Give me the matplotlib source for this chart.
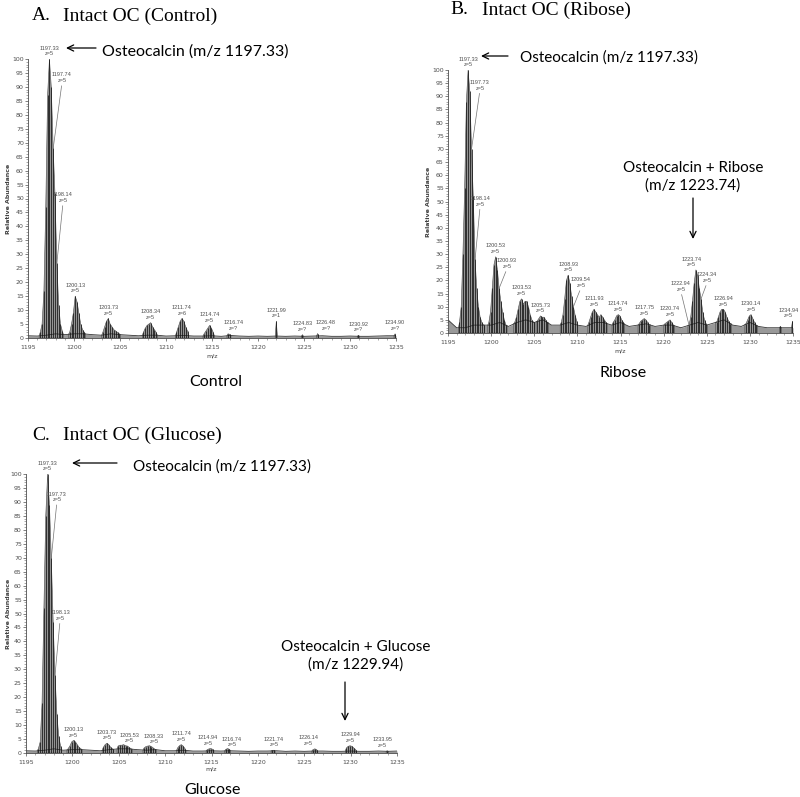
#!/usr/bin/env python3
"""Intact osteocalcin spectra: control, ribose and glucose incubations."""

import numpy as np
import matplotlib.pyplot as plt
from matplotlib.collections import PolyCollection
from matplotlib.ticker import MultipleLocator

W, H = 800, 797

# ---------------- data (m/z, relative abundance) ----------------
base_mz = np.arange(1195, 1236)

control_mz = [1196.33, 1196.53, 1196.73, 1196.93, 1197.13, 1197.33, 1197.53, 1197.74, 1197.93, 1198.14,
              1198.33, 1198.53, 1198.73,
              1199.53, 1199.73, 1199.93, 1200.13, 1200.33, 1200.53, 1200.73, 1200.93, 1201.13,
              1203.13, 1203.33, 1203.53, 1203.73, 1203.93, 1204.13, 1204.33, 1204.53, 1204.73, 1204.93,
              1207.54, 1207.74, 1207.94, 1208.14, 1208.34, 1208.54, 1208.74, 1208.94,
              1211.14, 1211.34, 1211.54, 1211.74, 1211.94, 1212.14, 1212.34,
              1214.14, 1214.34, 1214.54, 1214.74, 1214.94, 1215.14,
              1216.74, 1216.94, 1221.99, 1224.83, 1226.48, 1230.92, 1234.90]
control_int = [2, 5, 17, 47, 87, 100, 90, 68, 52, 27,
               12, 5, 2.5,
               2, 5, 9, 15, 13, 9, 5, 3, 2,
               2, 4, 6, 7, 5, 4, 3, 2.5, 2, 1.5,
               2, 3.5, 4.5, 5, 5.5, 4, 3, 2,
               2, 4, 6, 7, 6, 4, 2.5,
               1.5, 2.5, 3.5, 4.5, 3.5, 2,
               1.5, 1.3, 6, 1.2, 1.6, 1.0, 1.5]
control_base = [0.8, 0.7, 1.0, 1.5, 1.2, 1.5, 1.5, 1.2, 1.0, 1.5, 1.2, 1.0, 0.8, 1.0, 1.0, 0.7,
                0.8, 0.9, 0.7, 0.7, 0.8, 0.6, 0.9, 0.7, 0.6, 0.7, 0.6, 0.7, 0.6, 0.7, 0.6,
                0.7, 0.8, 0.6, 0.6, 0.7, 0.6, 0.6, 0.7, 0.8, 0.8]
control_labels = ["1197.33", "1197.74", "1198.14", "1200.13", "1203.73", "1208.34", "1211.74",
                  "1214.74", "1216.74", "1221.99", "1224.83", "1226.48", "1230.92", "1234.90"]
control_charges = ["5", "5", "5", "5", "5", "5", "6", "5", "?", "1", "?", "?", "?", "?"]

ribose_mz = [1196.33, 1196.53, 1196.73, 1196.93, 1197.13, 1197.33, 1197.53, 1197.73, 1197.93, 1198.14,
             1198.33, 1198.53, 1198.73, 1198.93, 1199.13,
             1199.73, 1199.93, 1200.13, 1200.33, 1200.53, 1200.73, 1200.93, 1201.13, 1201.33, 1201.53, 1201.73,
             1202.73, 1202.93, 1203.13, 1203.33, 1203.53, 1203.73, 1203.93, 1204.13, 1204.33, 1204.53,
             1204.73, 1204.93,
             1205.33, 1205.53, 1205.73, 1205.93, 1206.13, 1206.33, 1206.53,
             1208.13, 1208.33, 1208.53, 1208.73, 1208.93, 1209.13, 1209.33, 1209.54, 1209.73, 1209.93,
             1211.33, 1211.53, 1211.73, 1211.93, 1212.13, 1212.33, 1212.53, 1212.73, 1212.93, 1213.13,
             1213.33,
             1214.14, 1214.34, 1214.54, 1214.74, 1214.94, 1215.14, 1215.34,
             1217.15, 1217.35, 1217.55, 1217.75, 1217.95, 1218.15, 1218.35,
             1220.14, 1220.34, 1220.54, 1220.74, 1220.94, 1221.14,
             1222.94, 1223.14, 1223.34, 1223.54, 1223.74, 1223.94, 1224.14, 1224.34, 1224.54, 1224.74,
             1224.94,
             1226.14, 1226.34, 1226.54, 1226.74, 1226.94, 1227.14, 1227.34, 1227.54, 1227.74,
             1229.54, 1229.74, 1229.94, 1230.14, 1230.34, 1230.54, 1230.74,
             1233.54, 1234.94]
ribose_int = [4, 10, 30, 55, 88, 100, 92, 70, 52, 28,
              17, 10, 6, 4, 3,
              4, 8, 17, 26, 29, 24, 17, 12, 8, 5, 3,
              4, 6, 9, 12, 13, 11, 12, 12, 10, 7,
              5, 4,
              4.5, 5.5, 6.5, 6, 6, 5, 4,
              4, 7, 13, 20, 22, 19, 14, 10, 7, 4.5,
              4, 6, 8, 9, 8, 7, 6, 7, 6, 5,
              4,
              4, 5, 6.5, 7, 6.5, 5, 4,
              3.5, 4.5, 5, 5.5, 5, 4, 3,
              3.5, 4, 4.5, 5, 4, 3,
              3, 6, 12, 19, 24, 22, 17, 13, 8, 5,
              3.5,
              4, 6, 8, 9, 9, 8, 6, 4.5, 3.5,
              3.5, 5, 6.5, 7, 5.5, 4, 3,
              2.5, 4.5]
ribose_base = [5, 2, 2, 3, 3, 3, 4, 2.5, 4, 5, 4, 5, 3, 3, 4, 3,
               2.5, 4, 4, 3, 4, 2.5, 3, 3.5, 2.5, 3, 3, 2, 3, 4, 3,
               4, 5, 3, 2.5, 4, 2.5, 2, 2, 2, 2]
ribose_labels = ["1197.33", "1197.73", "1198.14", "1200.53", "1200.93", "1203.53", "1205.73",
                 "1208.93", "1209.54", "1211.93", "1214.74", "1217.75", "1220.74", "1222.94",
                 "1223.74", "1224.34", "1226.94", "1230.14", "1234.94"]
ribose_charges = ["5"] * len(ribose_labels)

glucose_mz = [1196.33, 1196.53, 1196.73, 1196.93, 1197.13, 1197.33, 1197.53, 1197.73, 1197.93, 1198.13,
              1198.33, 1198.53, 1198.73,
              1199.53, 1199.73, 1199.93, 1200.13, 1200.33, 1200.53, 1200.73, 1200.93,
              1203.33, 1203.53, 1203.73, 1203.93, 1204.13, 1204.33,
              1204.93, 1205.13, 1205.33, 1205.53, 1205.73, 1205.93, 1206.13, 1206.33,
              1207.73, 1207.93, 1208.13, 1208.33, 1208.53, 1208.73, 1208.93,
              1211.34, 1211.54, 1211.74, 1211.94, 1212.14,
              1214.54, 1214.74, 1214.94, 1215.14,
              1216.54, 1216.74, 1216.94,
              1221.54, 1221.74,
              1225.94, 1226.14, 1226.34,
              1229.54, 1229.74, 1229.94, 1230.14, 1230.34, 1230.54,
              1233.95]
glucose_int = [1.5, 4, 18, 52, 85, 100, 89, 70, 47, 28,
               14, 6, 2.5,
               1.5, 2.5, 4, 4.5, 4, 3, 2, 1.5,
               2, 3, 3.5, 3, 2, 1.5,
               2.5, 2.8, 2.8, 3, 2.6, 2.5, 2, 1.5,
               1.8, 2.3, 2.5, 2.6, 2.3, 1.8, 1.3,
               1.8, 2.6, 3, 2.5, 1.6,
               1.2, 1.5, 1.6, 1.3,
               1.3, 1.6, 1.3,
               0.9, 1.0,
               1.2, 1.5, 1.2,
               1.8, 2.4, 2.6, 2.4, 1.8, 1.2,
               0.8]
glucose_base = [0.8, 0.7, 1.0, 1.5, 1.0, 1.2, 1.2, 1.0, 0.8, 1.2, 1.5, 1.5, 1.2, 1.0, 1.2, 0.8,
                0.8, 1.0, 0.7, 0.7, 0.8, 0.7, 0.8, 0.7, 0.6, 0.7, 0.7, 0.8, 0.6, 0.7, 0.6,
                0.7, 0.7, 0.6, 0.6, 0.7, 0.6, 0.6, 0.7, 0.6, 0.7]
glucose_labels = ["1197.33", "1197.73", "1198.13", "1200.13", "1203.73", "1205.53", "1208.33",
                  "1211.74", "1214.94", "1216.74", "1221.74", "1226.14", "1229.94", "1233.95"]
glucose_charges = ["5"] * len(glucose_labels)

# label placement (offset in points from peak top); leader lines where the vendor software drew them
OFFSETS = {
    ("A", "1197.74"): (6.3, 47), ("A", "1198.14"): (4.4, 43),
    ("A", "1216.74"): (4, 2), ("A", "1226.48"): (6, 2),
    ("B", "1197.73"): (6, 42), ("B", "1198.14"): (3.6, 38), ("B", "1200.93"): (5.6, 14),
    ("B", "1209.54"): (5.4, 13.5), ("B", "1222.94"): (-5.8, 24), ("B", "1223.74"): (-3, 2),
    ("B", "1224.34"): (4.3, 11.5), ("B", "1234.94"): (-3, 2),
    ("C", "1197.73"): (4, 40), ("C", "1198.13"): (3.6, 39), ("C", "1205.53"): (4, 1),
    ("C", "1208.33"): (3, 1), ("C", "1214.94"): (-2, 2), ("C", "1216.74"): (3, 1),
    ("C", "1226.14"): (-4.8, 2), ("C", "1233.95"): (-3.6, 2),
}
LEADERS = {("A", "1197.74"), ("A", "1198.14"), ("B", "1197.73"), ("B", "1198.14"),
           ("B", "1200.93"), ("B", "1209.54"), ("B", "1222.94"), ("B", "1224.34"),
           ("C", "1197.73"), ("C", "1198.13")}

SANS = "Lato"
SERIF = "Liberation Serif"


def fxy(px, py):
    return (px / W, 1 - py / H)


def draw_spectrum(ax, key, mz, inten, base, labels, charges):
    mz = np.asarray(mz)
    inten = np.asarray(inten)
    base = np.asarray(base, dtype=float)
    ax.fill_between(base_mz, 0, base, color="0.6", lw=0)
    ax.plot(base_mz, base, color="0.2", lw=0.6)
    b = np.interp(mz, base_mz, base)

    # grey profile envelope over each isotope cluster, black centroid sticks on top
    breaks = np.where(np.diff(mz) > 0.3)[0] + 1
    polys = []
    for idx in np.split(np.arange(len(mz)), breaks):
        pts = [(mz[idx[0]] - 0.12, b[idx[0]])]
        pts += [(mz[i], inten[i]) for i in idx]
        pts += [(mz[idx[-1]] + 0.12, b[idx[-1]]), (mz[idx[-1]] + 0.12, 0), (mz[idx[0]] - 0.12, 0)]
        polys.append(pts)
    ax.add_collection(PolyCollection(polys, facecolor="0.58", edgecolor="0.3", lw=0.4))
    ax.vlines(mz, 0, inten, color="0.08", lw=0.55)

    for lab, z in zip(labels, charges):
        m = float(lab)
        near = np.abs(mz - m) < 0.06
        top = inten[near].max() if near.any() else np.interp(m, base_mz, base)
        dx, dy = OFFSETS.get((key, lab), (0, 2))
        kw = {}
        if (key, lab) in LEADERS:
            kw["arrowprops"] = dict(arrowstyle="-", color="0.45", lw=0.5,
                                    shrinkA=0, shrinkB=0, relpos=(0.5, 0))
        ax.annotate(f"{lab}\nz={z}", xy=(m, top), xytext=(dx, dy), textcoords="offset points",
                    ha="center", va="bottom", fontsize=4.0, color="0.3", linespacing=1.15,
                    family="Liberation Sans", annotation_clip=False, **kw)

    ax.set_xlim(1195, 1235)
    ax.set_ylim(0, 100)
    for s in ("top", "right"):
        ax.spines[s].set_visible(False)
    for s in ("left", "bottom"):
        ax.spines[s].set_linewidth(0.6)
        ax.spines[s].set_color("0.3")
    ax.xaxis.set_major_locator(MultipleLocator(5))
    ax.xaxis.set_minor_locator(MultipleLocator(1))
    ax.yaxis.set_major_locator(MultipleLocator(5))
    ax.yaxis.set_minor_locator(MultipleLocator(1))
    ax.tick_params(which="major", labelsize=4.5, length=2.2, width=0.5, colors="0.3")
    ax.tick_params(which="minor", length=1.1, width=0.4, colors="0.4")
    ax.tick_params(axis="y", pad=0.8)
    ax.tick_params(axis="x", pad=3)
    ax.set_ylabel("Relative Abundance", fontsize=4.5, fontweight="bold", color="0.25")
    ax.set_xlabel("m/z", fontsize=4.5, color="0.25")
    ax.set_facecolor("none")


fig = plt.figure(figsize=(W / 100, H / 100), dpi=100)

axA = fig.add_axes([28 / W, 1 - 338 / H, 368 / W, 279 / H])
axB = fig.add_axes([448 / W, 1 - 333 / H, 345 / W, 263 / H])
axC = fig.add_axes([26 / W, 1 - 753 / H, 371 / W, 279 / H])

draw_spectrum(axA, "A", control_mz, control_int, control_base, control_labels, control_charges)
draw_spectrum(axB, "B", ribose_mz, ribose_int, ribose_base, ribose_labels, ribose_charges)
draw_spectrum(axC, "C", glucose_mz, glucose_int, glucose_base, glucose_labels, glucose_charges)

axA.yaxis.set_label_coords(-0.045, 0.5)
axB.yaxis.set_label_coords(-0.05, 0.5)
axC.yaxis.set_label_coords(-0.04, 0.5)
axA.xaxis.set_label_coords(0.5, -0.055)
axB.xaxis.set_label_coords(0.5, -0.06)
axC.xaxis.set_label_coords(0.5, -0.05)

# panel titles
for letter, title, xl, xt, yc in [("A.", "Intact OC (Control)", 32, 63, 16),
                                  ("B.", "Intact OC (Ribose)", 450, 482, 10),
                                  ("C.", "Intact OC (Glucose)", 32, 63, 435)]:
    fig.text(*fxy(xl, yc), letter, fontsize=14, family=SERIF, va="center")
    fig.text(*fxy(xt, yc), title, fontsize=14, family=SERIF, va="center")

# osteocalcin arrows
arrow = dict(arrowstyle="->,head_length=0.45,head_width=0.22", lw=0.9, color="black",
             shrinkA=0, shrinkB=0)
for tail, tip, txt_xy, fs in [((96, 48), (66, 48), (102, 52), 11.5),
                              ((508, 56), (481, 56), (520, 58), 11),
                              ((117, 463), (72, 463), (133, 467), 11)]:
    fig.add_artist(plt.Annotation("", xy=fxy(*tip), xytext=fxy(*tail), xycoords="figure fraction",
                                  arrowprops=arrow))
    fig.text(*fxy(*txt_xy), "Osteocalcin (m/z 1197.33)", fontsize=fs, family=SANS, va="center")

# adduct annotations
fig.text(*fxy(693, 177), "Osteocalcin + Ribose\n(m/z 1223.74)", fontsize=11, family=SANS,
         ha="center", va="center", linespacing=1.3)
fig.add_artist(plt.Annotation("", xy=fxy(693, 239), xytext=fxy(693, 198), xycoords="figure fraction",
                              arrowprops=arrow))
fig.text(*fxy(356, 656), "Osteocalcin + Glucose\n(m/z 1229.94)", fontsize=11, family=SANS,
         ha="center", va="center", linespacing=1.3)
fig.add_artist(plt.Annotation("", xy=fxy(345, 721), xytext=fxy(345, 682), xycoords="figure fraction",
                              arrowprops=arrow))

# condition captions
for txt, x, y in [("Control", 216, 382), ("Ribose", 623, 373), ("Glucose", 212, 790)]:
    fig.text(*fxy(x, y), txt, fontsize=11.5, family=SANS, ha="center", va="center")

fig.savefig("out.png", dpi=100, facecolor="white")
